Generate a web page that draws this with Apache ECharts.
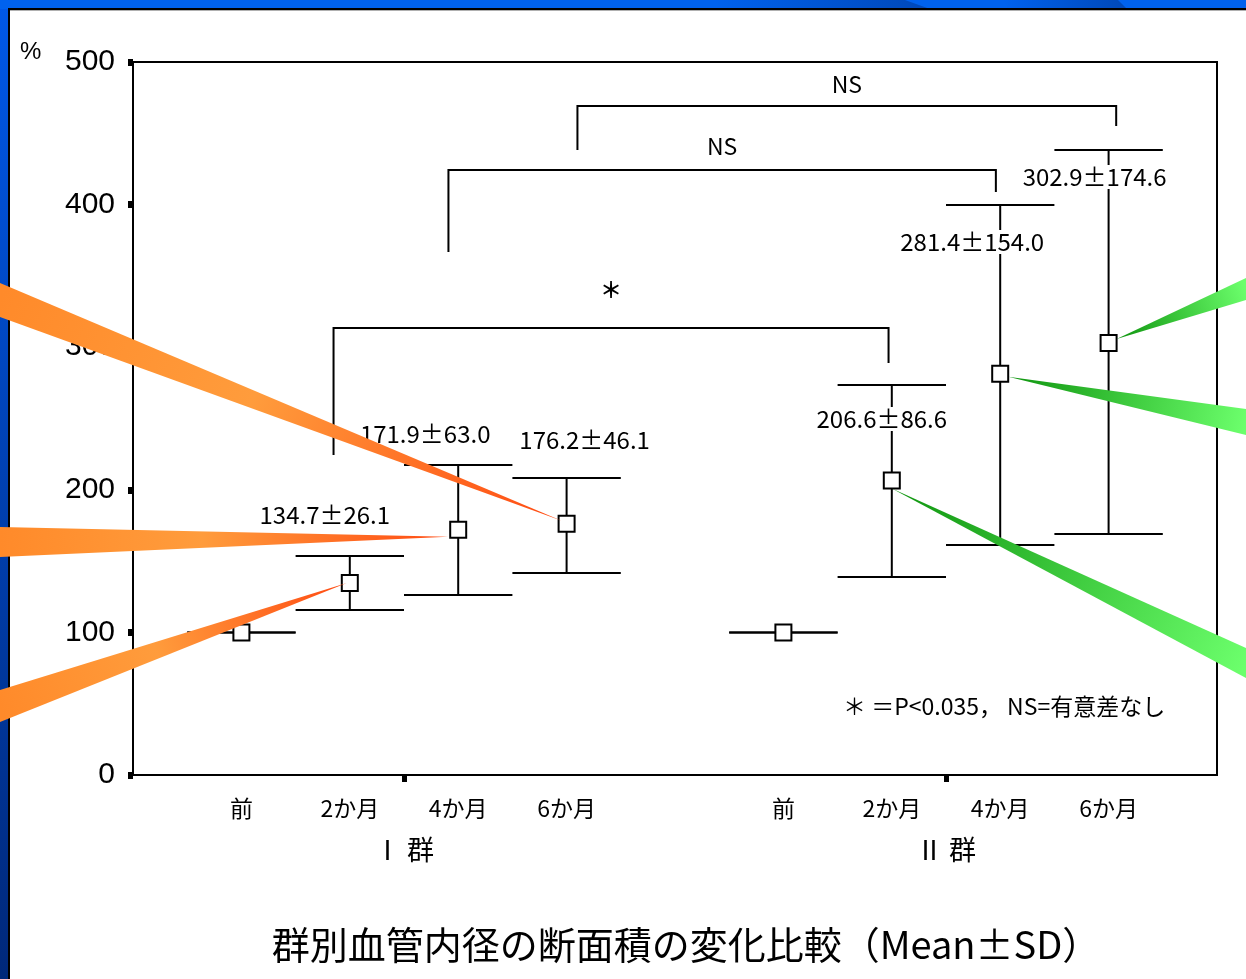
<!DOCTYPE html>
<html><head><meta charset="utf-8">
<script src="https://cdn.jsdelivr.net/npm/echarts@6/dist/echarts.min.js"></script>
<style>html,body{margin:0;padding:0;background:#fff}#c{width:1246px;height:979px}</style>
</head><body><div id="c"></div>
<script>
// ---- data ----
const categories = ['前','2か月','4か月','6か月','前','2か月','4か月','6か月'];
const xPositions = [1,2,3,4,6,7,8,9];
const groups = ['Ⅰ 群','Ⅱ 群'];
const groupCenters = [2.5, 7.5];
const means   = [100, 134.7, 171.9, 176.2, 100, 206.6, 281.4, 302.9];
const barLow  = [100, 115.7, 126.2, 141.7, 100, 138.8, 161.3, 169.0];
const barHigh = [100, 153.6, 217.4, 208.3, 100, 273.5, 399.7, 438.3];
const valueLabels = ['', '134.7±26.1', '171.9±63.0', '176.2±46.1', '', '206.6±86.6', '281.4±154.0', '302.9±174.6'];
const yMin = 0, yMax = 500, yStep = 100;
const bracketX1 = [1.85, 2.91, 4.10];
const bracketX2 = [6.97, 7.96, 9.07];
const bracketY1 = [224.4, 366.8, 438.3];
const bracketY2 = [288.9, 408.8, 455.1];
const bracketBar = [313.5, 424.3, 469.2];
const bracketText = ['＊', 'NS', 'NS'];
const calloutTargets = [3, 2, 1, 5, 6, 7];

// ---- style / layout (px) ----
const FONT = '"Liberation Sans", "Noto Sans CJK JP", sans-serif';
const JFONT = '"Noto Sans CJK JP", "Liberation Sans", sans-serif';
const labelOffsets = [[0,0],[-25,-41],[-33,-31],[18,-38],[0,0],[-10,34],[-28,37],[-14,27]];
const bracketLabelDy = [-38, -24, -22];
const calloutStyle = [
  {side:'left',  top:283, bottom:317, dx:-5,  dy:-3, color:'orange'},
  {side:'left',  top:527, bottom:557, dx:-10, dy:7,  color:'orange'},
  {side:'left',  top:690, bottom:722, dx:-3,  dy:0,  color:'orange'},
  {side:'right', top:648, bottom:678, dx:0,   dy:8,  color:'green'},
  {side:'right', top:409, bottom:435, dx:8,   dy:3,  color:'green'},
  {side:'right', top:278, bottom:300, dx:8,   dy:-4, color:'green'}
];
const capHalf = 0.5;

const chart = echarts.init(document.getElementById('c'), null, {renderer:'canvas'});

const errData = xPositions.map((x,i)=>[x, means[i], barLow[i], barHigh[i]]);
const bracketData = bracketX1.map((x,i)=>[x, bracketY1[i], bracketX2[i], bracketY2[i], bracketBar[i]]);
const calloutData = calloutTargets.map(i=>[xPositions[i], means[i]]);

const ls = {stroke:'#000', lineWidth:2};

const option = {
  animation:false,
  backgroundColor:'#fff',
  grid:{left:133, top:62, width:1084, height:713, show:true, borderColor:'#000', borderWidth:2, backgroundColor:'transparent'},
  xAxis:[{
    type:'value', min:0, max:10, gridIndex:0, position:'bottom', offset:0,
    axisLine:{show:false}, axisTick:{show:false}, splitLine:{show:false},
    axisLabel:{customValues:xPositions, formatter:(v)=>categories[xPositions.indexOf(v)] || '',
      fontSize:23, color:'#000', margin:22, fontFamily:JFONT}
  },{
    type:'value', min:0, max:10, gridIndex:0, position:'bottom', offset:0,
    axisLine:{show:false}, splitLine:{show:false},
    axisTick:{show:true, customValues:groupCenters, length:7, lineStyle:{color:'#000', width:5}},
    axisLabel:{customValues:groupCenters, formatter:(v)=>groups[groupCenters.indexOf(v)] || '',
      fontSize:27, color:'#000', margin:61, fontFamily:JFONT}
  }],
  yAxis:{
    type:'value', min:yMin, max:yMax, interval:yStep,
    axisLine:{show:false}, splitLine:{show:false},
    axisTick:{show:true, length:5, lineStyle:{color:'#000', width:7}},
    axisLabel:{fontSize:30, color:'#000', margin:18, fontFamily:FONT}
  },
  graphic:[
    {type:'rect', z:0, shape:{x:0,y:0,width:9,height:979},
      style:{fill:new echarts.graphic.LinearGradient(0,0,0,1,[{offset:0,color:'#0058e8'},{offset:1,color:'#00287a'}])}},
    {type:'rect', z:0, shape:{x:0,y:0,width:1246,height:9}, style:{fill:'#0062ee'}},
    {type:'polygon', z:0, shape:{points:[[714,0],[905,0],[930,9],[720,9]]},
      style:{fill:new echarts.graphic.LinearGradient(0,0,1,0,[{offset:0,color:'#0062ee'},{offset:1,color:'#0048b8'}])}},
    {type:'polygon', z:0, shape:{points:[[1003,0],[1118,0],[1127,9],[1008,9]]},
      style:{fill:new echarts.graphic.LinearGradient(0,0,1,0,[{offset:0,color:'#0062ee'},{offset:1,color:'#0048b8'}])}},
    {type:'rect', z:0, shape:{x:8,y:8,width:2,height:971}, style:{fill:'#000'}},
    {type:'rect', z:0, shape:{x:8,y:8,width:1238,height:2}, style:{fill:'#000'}},
    {type:'rect', z:0, shape:{x:10,y:10,width:1236,height:1}, style:{fill:'#b0b0b0'}},
    {type:'text', z:1, x:20, y:40, style:{text:'%', fill:'#000', font:'24px '+FONT}},
    {type:'text', z:1, x:686, y:945, style:{text:'群別血管内径の断面積の変化比較（Mean±SD）', fill:'#000',
      font:'38px '+JFONT, textAlign:'center', textVerticalAlign:'middle'}},
    {type:'text', z:1, x:843, y:706, style:{text:'＊ ＝P<0.035， NS=有意差なし', fill:'#000',
      font:'23px '+JFONT, textAlign:'left', textVerticalAlign:'middle'}}
  ],
  series:[{
    type:'custom', name:'errorbars', xAxisIndex:0, yAxisIndex:0, z:3, data:errData,
    renderItem:(params, api)=>{
      const i = params.dataIndex;
      const x = api.value(0), m = api.value(1), lo = api.value(2), hi = api.value(3);
      const pHi = api.coord([x,hi]), pLo = api.coord([x,lo]), pM = api.coord([x,m]);
      const l = api.coord([x-capHalf,hi])[0], r = api.coord([x+capHalf,hi])[0];
      const ch = [];
      if (hi !== lo) ch.push({type:'line', shape:{x1:pHi[0],y1:pHi[1],x2:pLo[0],y2:pLo[1]}, style:ls});
      ch.push({type:'line', shape:{x1:l,y1:pHi[1],x2:r,y2:pHi[1]}, style:ls});
      ch.push({type:'line', shape:{x1:l,y1:pLo[1],x2:r,y2:pLo[1]}, style:ls});
      ch.push({type:'rect', shape:{x:pM[0]-8,y:pM[1]-8,width:16,height:16}, style:{fill:'#fff', stroke:'#000', lineWidth:2}});
      if (valueLabels[i]) {
        ch.push({type:'text', x:pHi[0]+labelOffsets[i][0], y:pHi[1]+labelOffsets[i][1],
          style:{text:valueLabels[i], fill:'#000', font:'24px '+JFONT, align:'center', verticalAlign:'middle',
            backgroundColor:'#fff', padding:[0,1]}});
      }
      return {type:'group', children:ch};
    }
  },{
    type:'custom', name:'brackets', xAxisIndex:0, yAxisIndex:0, z:3, data:bracketData,
    renderItem:(params, api)=>{
      const i = params.dataIndex;
      const a = api.coord([api.value(0), api.value(1)]);
      const b = api.coord([api.value(0), api.value(4)]);
      const c = api.coord([api.value(2), api.value(4)]);
      const d = api.coord([api.value(2), api.value(3)]);
      return {type:'group', children:[
        {type:'polyline', shape:{points:[a,b,c,d]}, style:{stroke:'#000', lineWidth:2, fill:null}},
        {type:'text', x:(b[0]+c[0])/2, y:b[1]+bracketLabelDy[i],
          style:{text:bracketText[i], fill:'#000', font:(i===0?'bold 22px ':'23px ')+JFONT, align:'center', verticalAlign:'middle'}}
      ]};
    }
  },{
    type:'custom', name:'callouts', xAxisIndex:0, yAxisIndex:0, z:6, clip:false, data:calloutData,
    renderItem:(params, api)=>{
      const s = calloutStyle[params.dataIndex];
      const p = api.coord([api.value(0), api.value(1)]);
      const tx = p[0]+s.dx, ty = p[1]+s.dy;
      const bx = s.side==='left' ? 0 : api.getWidth();
      const bm = (s.top+s.bottom)/2;
      const stops = s.color==='orange'
        ? [{offset:0,color:'#ff8a2a'},{offset:0.45,color:'#ff9c3c'},{offset:1,color:'#ff4a12'}]
        : [{offset:0,color:'#6cff6c'},{offset:1,color:'#0f940f'}];
      return {type:'polygon', shape:{points:[[bx,s.top],[tx,ty],[bx,s.bottom]]},
        style:{fill:new echarts.graphic.LinearGradient(bx,bm,tx,ty,stops,true)}};
    }
  }]
};
chart.setOption(option);
</script></body></html>
